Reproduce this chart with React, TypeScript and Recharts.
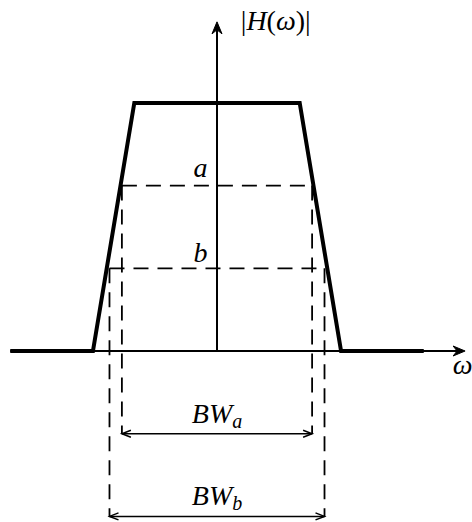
import { ComposedChart, Line, Scatter, XAxis, YAxis } from "recharts";

// units: 1 = passband height / 3, origin at the axes crossing
const PASSBAND = [
  { x: -2.5, y: 0 },
  { x: -1.5, y: 0 },
  { x: -1.0, y: 3 },
  { x: 1.0, y: 3 },
  { x: 1.5, y: 0 },
  { x: 2.5, y: 0 },
];
const W_AXIS = [
  { x: -2.5, y: 0 },
  { x: 2.95, y: 0 },
];
const H_AXIS = [
  { x: 0, y: 0 },
  { x: 0, y: 3.93 },
];

const LEVEL_A = 2;
const LEVEL_B = 1;
const EDGE_A = 1.15;
const EDGE_B = 1.3;
const ARROW_A = -1;
const ARROW_B = -2;

const DASH_A_H = [
  { x: -EDGE_A, y: LEVEL_A },
  { x: EDGE_A, y: LEVEL_A },
];
const DASH_A_L = [
  { x: -EDGE_A, y: LEVEL_A },
  { x: -EDGE_A, y: ARROW_A },
];
const DASH_A_R = [
  { x: EDGE_A, y: LEVEL_A },
  { x: EDGE_A, y: ARROW_A },
];
const DASH_B_H = [
  { x: -EDGE_B, y: LEVEL_B },
  { x: EDGE_B, y: LEVEL_B },
];
const DASH_B_L = [
  { x: -EDGE_B, y: LEVEL_B },
  { x: -EDGE_B, y: ARROW_B },
];
const DASH_B_R = [
  { x: EDGE_B, y: LEVEL_B },
  { x: EDGE_B, y: ARROW_B },
];
const BW_A = [
  { x: -EDGE_A, y: ARROW_A },
  { x: EDGE_A, y: ARROW_A },
];
const BW_B = [
  { x: -EDGE_B, y: ARROW_B },
  { x: EDGE_B, y: ARROW_B },
];

const AXIS_TIPS = [
  { x: 0, y: 3.98, angle: -90 },
  { x: 3.0, y: 0, angle: 0 },
];
const BW_TIPS = [
  { x: -EDGE_A, y: ARROW_A, angle: 180 },
  { x: EDGE_A, y: ARROW_A, angle: 0 },
  { x: -EDGE_B, y: ARROW_B, angle: 180 },
  { x: EDGE_B, y: ARROW_B, angle: 0 },
];

type Part = { t: string; i?: boolean; sub?: boolean };
const LABELS: { x: number; y: number; anchor: string; parts: Part[] }[] = [
  {
    x: 0.71,
    y: 3.88,
    anchor: "middle",
    parts: [{ t: "|" }, { t: "H", i: true }, { t: "(" }, { t: "ω", i: true }, { t: ")" }, { t: "|" }],
  },
  { x: -0.2, y: 2.1, anchor: "middle", parts: [{ t: "a", i: true }] },
  { x: -0.2, y: 1.08, anchor: "middle", parts: [{ t: "b", i: true }] },
  { x: 0, y: -0.87, anchor: "middle", parts: [{ t: "BW", i: true }, { t: "a", i: true, sub: true }] },
  { x: 0, y: -1.86, anchor: "middle", parts: [{ t: "BW", i: true }, { t: "b", i: true, sub: true }] },
  { x: 2.85, y: -0.28, anchor: "start", parts: [{ t: "ω", i: true }] },
];

const FONT = "'Liberation Serif', 'DejaVu Serif', serif";
const X_DOMAIN = [-217 / 82.7, 255 / 82.7];
const Y_DOMAIN = [-171 / 82.7, 351 / 82.7];

function AxisTip(props: any) {
  const { cx, cy, payload } = props;
  return (
    <path
      d="M0,0 L-12,-5 L-8,0 L-12,5 Z"
      fill="#000"
      stroke="#000"
      strokeWidth={1}
      transform={`translate(${cx},${cy}) rotate(${payload.angle})`}
    />
  );
}

function BwTip(props: any) {
  const { cx, cy, payload } = props;
  return (
    <path
      d="M-9,-3.5 L0,0 L-9,3.5"
      fill="none"
      stroke="#000"
      strokeWidth={1.5}
      transform={`translate(${cx},${cy}) rotate(${payload.angle})`}
    />
  );
}

function TextMark(props: any) {
  const { cx, cy, payload } = props;
  return (
    <text x={cx} y={cy} textAnchor={payload.anchor} fontFamily={FONT} fontSize={28} fill="#000">
      {payload.parts.map((p: Part, k: number) => (
        <tspan key={k} fontStyle={p.i ? "italic" : "normal"} fontSize={p.sub ? 20 : 28} dy={p.sub ? 5 : 0}>
          {p.t}
        </tspan>
      ))}
    </text>
  );
}

const plain = { dot: false, activeDot: false, isAnimationActive: false, type: "linear" as const };
const dashed = { ...plain, stroke: "#000", strokeWidth: 1.8, strokeDasharray: "15 9" };

export default function App() {
  return (
    <div style={{ position: "absolute", left: 0, top: 0, background: "#fff" }}>
      <ComposedChart width={472} height={522} margin={{ top: 0, right: 0, bottom: 0, left: 0 }}>
        <XAxis type="number" dataKey="x" domain={X_DOMAIN} allowDataOverflow hide />
        <YAxis type="number" dataKey="y" domain={Y_DOMAIN} allowDataOverflow hide />

        <Line data={DASH_A_H} dataKey="y" {...dashed} />
        <Line data={DASH_A_L} dataKey="y" {...dashed} />
        <Line data={DASH_A_R} dataKey="y" {...dashed} />
        <Line data={DASH_B_H} dataKey="y" {...dashed} />
        <Line data={DASH_B_L} dataKey="y" {...dashed} />
        <Line data={DASH_B_R} dataKey="y" {...dashed} />

        <Line data={BW_A} dataKey="y" stroke="#000" strokeWidth={1.5} {...plain} />
        <Line data={BW_B} dataKey="y" stroke="#000" strokeWidth={1.5} {...plain} />

        <Line data={W_AXIS} dataKey="y" stroke="#000" strokeWidth={2} {...plain} />
        <Line data={H_AXIS} dataKey="y" stroke="#000" strokeWidth={2} {...plain} />
        <Line data={PASSBAND} dataKey="y" stroke="#000" strokeWidth={4} strokeLinejoin="miter" {...plain} />

        <Scatter data={AXIS_TIPS} dataKey="y" shape={<AxisTip />} activeShape={false} isAnimationActive={false} />
        <Scatter data={BW_TIPS} dataKey="y" shape={<BwTip />} activeShape={false} isAnimationActive={false} />
        <Scatter data={LABELS} dataKey="y" shape={<TextMark />} activeShape={false} isAnimationActive={false} />
      </ComposedChart>
    </div>
  );
}
